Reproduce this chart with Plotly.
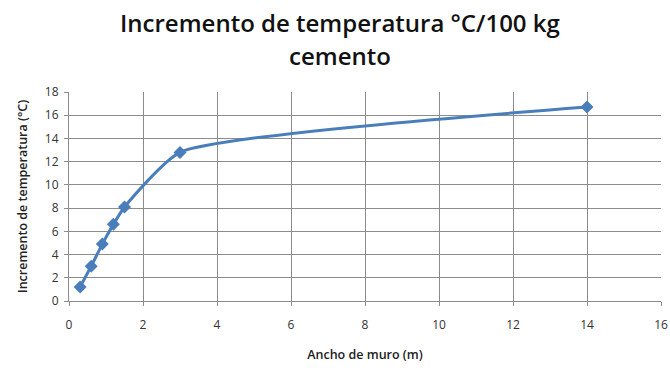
import plotly.graph_objects as go

ancho_m = [0.3, 0.6, 0.9, 1.2, 1.5, 3.0, 14.0]
incremento_c = [1.2, 3.0, 4.9, 6.6, 8.1, 12.8, 16.7]

x_ticks = [0, 2, 4, 6, 8, 10, 12, 14, 16]
y_ticks = [0, 2, 4, 6, 8, 10, 12, 14, 16, 18]

title_lines = ["Incremento de temperatura °C/100 kg", "cemento"]

color = "#4A7EBB"

L, R = 69, 9
plot_w = 670 - L - R

fig = go.Figure()
fig.add_trace(go.Scatter(
    x=ancho_m, y=incremento_c, mode="lines+markers",
    line=dict(color=color, width=3, shape="spline", smoothing=0.5),
    marker=dict(symbol="diamond", size=10, color=color),
    showlegend=False,
))

grid = "#8C8C8C"
fig.update_layout(
    width=670, height=368,
    margin=dict(l=L, r=R, t=92, b=67, autoexpand=False),
    paper_bgcolor="white", plot_bgcolor="white",
    font=dict(family="Open Sans, Liberation Sans, sans-serif", color="#222"),
    xaxis=dict(
        range=[0, 16], tickvals=x_ticks, ticktext=[str(v) for v in x_ticks],
        showgrid=True, gridcolor=grid, gridwidth=1, automargin=False,
        showline=True, linecolor=grid, ticks="outside", ticklen=4, tickcolor=grid,
        tickfont=dict(size=12, color="#333"), ticklabelstandoff=9,
        ticklabeloverflow="allow",
        title=dict(text="Ancho de muro (m)", font=dict(size=12.5, color="#222", weight=600), standoff=17),
        zeroline=False,
    ),
    yaxis=dict(
        range=[0, 18], tickvals=y_ticks, ticktext=[str(v) for v in y_ticks],
        showgrid=True, gridcolor=grid, gridwidth=1,
        showline=True, linecolor=grid, ticks="outside", ticklen=4, tickcolor=grid,
        tickfont=dict(size=12, color="#333"), ticklabelstandoff=3,
        title=dict(text="Incremento de temperatura (°C)", font=dict(size=12.5, color="#222", weight=600), standoff=14),
        zeroline=False,
    ),
)

for i, line in enumerate(title_lines):
    fig.add_annotation(
        text=line, xref="paper", yref="paper", x=(340 - L) / plot_w, xanchor="center",
        y=1, yshift=(92 - 22 - 33 * i), yanchor="middle", showarrow=False,
        font=dict(size=24, color="#111", weight=600),
    )

fig.write_html("out.html")
